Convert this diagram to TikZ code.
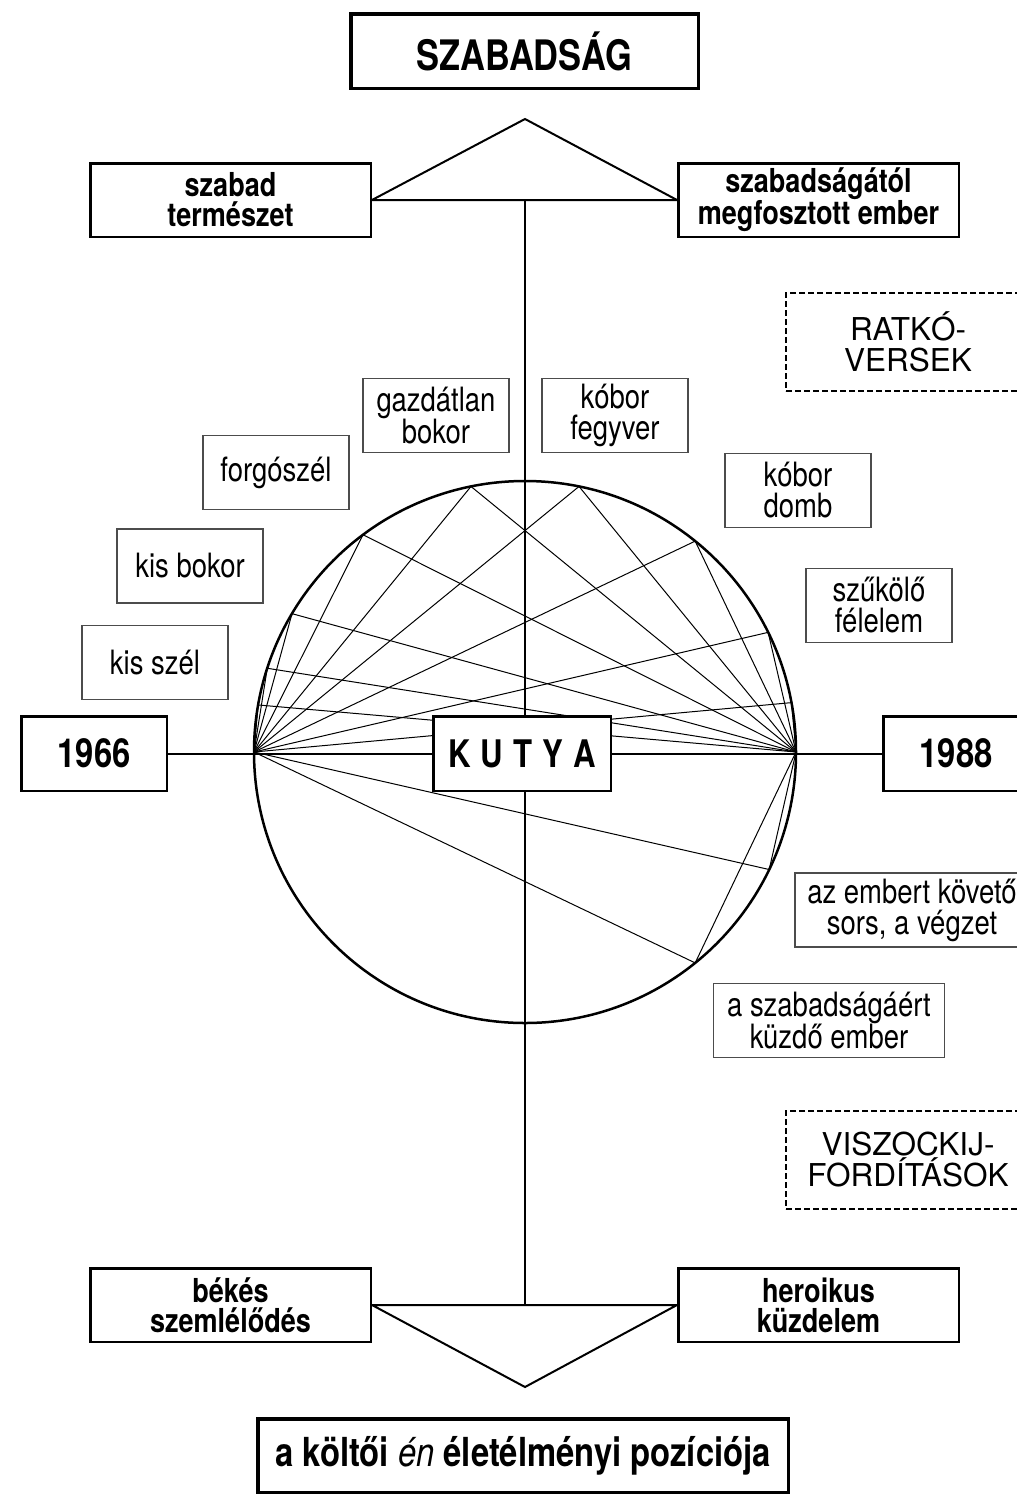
\documentclass[tikz,border=0pt]{standalone}
\usepackage{fontspec}
\setmainfont{TeX Gyre Heros}
\newfontfamily\cnd[FakeStretch=0.82]{TeX Gyre Heros}
\usetikzlibrary{calc}
\pgfdeclarelayer{bg}
\pgfdeclarelayer{lines}
\pgfsetlayers{bg,lines,main}
\begin{document}
\begin{tikzpicture}[x=1pt,y=-1pt,
  every node/.style={inner sep=0pt, fill=white, align=center},
  bigbox/.style={draw, line width=3.5pt, font=\cnd\bfseries\fontsize{42}{42}\selectfont},
  boldbox/.style={draw, line width=2.5pt, minimum width=280.5pt, minimum height=73.5pt, font=\cnd\bfseries\fontsize{33}{30}\selectfont},
  yearbox/.style={draw, line width=2.5pt, minimum width=145.5pt, minimum height=74.5pt, font=\cnd\bfseries\fontsize{40}{40}\selectfont},
  labelbox/.style={draw=black!70, line width=1.3pt, minimum width=146pt, minimum height=74pt, font=\cnd\fontsize{33.5}{31}\selectfont},
  dashbox/.style={draw, line width=2pt, dash pattern=on 6pt off 3pt, minimum width=244pt, minimum height=98pt, font=\fontsize{31.5}{31}\selectfont},
  axis/.style={line width=2pt},
  chord/.style={line width=1pt},
]
\useasboundingbox (0,0) rectangle (1017,1497);
\begin{pgfonlayer}{bg}
\fill[white] (0,0) rectangle (1017,1497);
\end{pgfonlayer}

\node[bigbox, minimum width=347.5pt, minimum height=74.5pt] (szab) at (524.5,51) {SZABADSÁG};
\node[boldbox] (szt) at (230.5,200) {szabad\\természet};
\node[boldbox] (szme) at (818.5,200) {szabadságától\\megfosztott ember};
\node[dashbox] (ratko) at (908,342) {RATKÓ-\\VERSEK};
\node[labelbox] (gazd) at (436,415.5) {gazdátlan\\bokor};
\node[labelbox] (kfegy) at (615,415.5) {kóbor\\fegyver};
\node[labelbox] (forg) at (276,472.5) {forgószél};
\node[labelbox] (kdomb) at (798,490.5) {kóbor\\domb};
\node[labelbox] (kbokor) at (190,566) {kis bokor};
\node[labelbox] (szuk) at (879,605.5) {szűkölő\\félelem};
\node[labelbox] (kszel) at (155,662.5) {kis szél};
\node[yearbox] (y66) at (94,753.5) {1966};
\node[yearbox, minimum width=177.5pt, font=\cnd\bfseries\fontsize{38}{38}\selectfont] (kutya) at (522,753.5) {K\hspace{10pt}U\hspace{10pt}T\hspace{10pt}Y\hspace{10pt}A};
\node[yearbox] (y88) at (956,753.5) {1988};
\node[labelbox, minimum width=234pt] (sors) at (912,910) {az embert követő\\sors, a végzet};
\node[labelbox, minimum width=231pt] (kuzd) at (829,1020.5) {a szabadságáért\\küzdő ember};
\node[dashbox] (viszo) at (908,1160) {VISZOCKIJ-\\FORDÍTÁSOK};
\node[boldbox] (bekes) at (230.5,1305) {békés\\szemlélődés};
\node[boldbox] (hero) at (818.5,1305) {heroikus\\küzdelem};
\node[bigbox, minimum width=530.5pt, minimum height=73.5pt, font=\cnd\bfseries\fontsize{40}{40}\selectfont] (pozi) at (523,1455.5) {a költői {\mdseries\itshape én} életélményi pozíciója};

\coordinate (topapex) at (525,119);
\coordinate (botapex) at (525,1387);
\coordinate (O) at (525,752);
\coordinate (L) at (254,752);
\coordinate (R) at (796,752);
\foreach \n/\a in {A1/-101.5, A2/-126.7, A3/-149.3, A4/-162, A5/-170, B1/-78.5, B2/-51.1, B3/-26.2, B4/-10.5, C1/25.7, C2/51.1}
  \coordinate (\n) at ([shift={(525,752)}]\a:271);

\begin{pgfonlayer}{lines}
\draw[axis, line join=miter] (szt.east) -- (topapex) -- (szme.west) -- cycle;
\draw[axis, line join=miter] (bekes.east) -- (botapex) -- (hero.west) -- cycle;
\draw[axis] ($(szt.east)!0.5!(szme.west)$) -- ($(bekes.east)!0.5!(hero.west)$);
\draw[axis] (y66.east) -- (y88.west);
\draw[line width=2.5pt] (O) circle [radius=271];
\foreach \n in {A1,A2,A3,A4,A5,B1,B2,B3,B4,C1,C2}
  \draw[chord] (L) -- (\n) -- (R);
\end{pgfonlayer}
\end{tikzpicture}
\end{document}
